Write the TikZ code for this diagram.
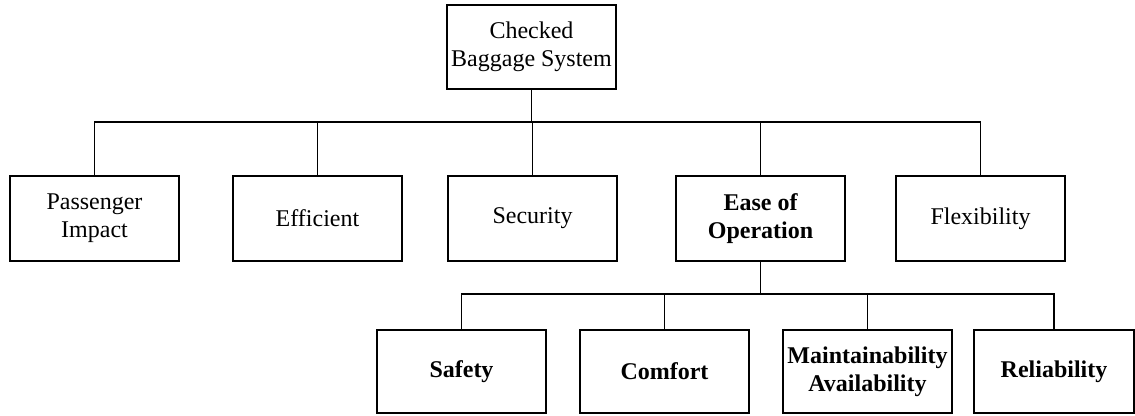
\documentclass[tikz,border=0pt]{standalone}
\usepackage{fontspec}
\setmainfont{Liberation Serif}
\begin{document}
\begin{tikzpicture}[x=1pt,y=-1pt,
  box/.style={draw,line width=1.8pt,minimum width=169pt,minimum height=84pt,inner sep=0pt,align=center,font=\fontsize{24}{28}\selectfont},
  bbox/.style={box,font=\fontsize{24}{28}\selectfont\bfseries},
  link/.style={line width=1.7pt}]
\useasboundingbox (0,0) rectangle (1135,415);
\node[box] (top) at (531.5,47) {Checked\\Baggage System};
\node[box,minimum height=85pt] (pass) at (94.5,218.5) {Passenger\\Impact};
\node[box,minimum height=85pt] (eff) at (317.5,218.5) {Efficient};
\node[box,minimum height=85pt] (sec) at (532.5,218.5) {Security};
\node[bbox,minimum height=85pt] (ease) at (760.5,218.5) {Ease of\\Operation};
\node[box,minimum height=85pt] (flex) at (980.5,218.5) {Flexibility};
\node[bbox,minimum height=83pt] (safe) at (461.5,371.5) {Safety};
\node[bbox,minimum height=83pt] (comf) at (664.5,371.5) {Comfort};
\node[bbox,minimum height=83pt] (main) at (867.5,371.5) {Maintainability\\Availability};
\node[bbox,minimum height=83pt,minimum width=160pt] (rel) at (1054,371.5) {Reliability};
\foreach \c in {pass,eff,sec,ease,flex}
  \draw[link] (top.south) -- ++(0,32) -| (\c.north);
\foreach \c in {safe,comf,main,rel}
  \draw[link] (ease.south) -- ++(0,32) -| (\c.north);
\end{tikzpicture}
\end{document}
